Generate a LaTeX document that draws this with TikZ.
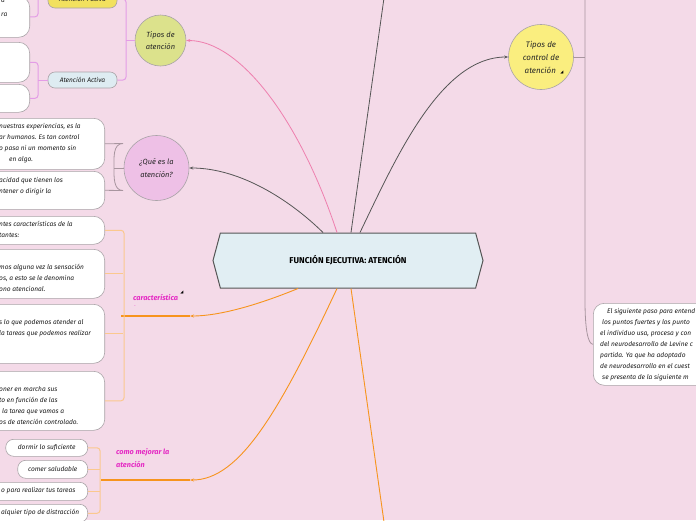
\documentclass[tikz,border=0pt]{standalone}
\usepackage{fontspec}
\setmainfont{Fira Sans}
\newfontfamily\symfont{DejaVu Sans}
\usetikzlibrary{positioning,shapes.symbols,arrows.meta}
\definecolor{PageBg}{HTML}{F4DAE8}
\definecolor{TitleFill}{HTML}{E1EEF3}
\definecolor{EdgeGrey}{HTML}{555555}
\definecolor{LeafGrey}{HTML}{A9A3A7}
\definecolor{PinkLink}{HTML}{EE7FAE}
\definecolor{LilacLink}{HTML}{E39CE6}
\definecolor{MauveLink}{HTML}{A8959F}
\definecolor{LinkOrange}{HTML}{F7941D}
\definecolor{SoftOrange}{HTML}{FBC88E}
\definecolor{LabelMagenta}{HTML}{E52BC4}
\definecolor{TiposFill}{HTML}{DCE28C}
\definecolor{QueFill}{HTML}{EEC0E6}
\definecolor{ControlFill}{HTML}{FAEE7F}
\definecolor{PasivaFill}{HTML}{F2E15E}
\definecolor{ActivaFill}{HTML}{DEECF2}

\begin{document}
\begin{tikzpicture}[x=1pt,y=-1pt,
    leaf/.style={draw=LeafGrey, fill=white, rounded corners=11pt, line width=0.6pt, inner sep=0pt},
    smallleaf/.style={leaf, rounded corners=8pt, anchor=north east, text=black!90, font=\fontsize{6.6}{8}\selectfont\itshape},
    leaftext/.style={anchor=north west, align=left, inner sep=0pt, text=black!90, font=\fontsize{6.6}{11}\selectfont\itshape},
    bubble/.style={circle, draw=LeafGrey, line width=0.6pt, inner sep=0pt, align=center, text=black!85, font=\fontsize{7.5}{12.5}\selectfont\itshape},
    tag/.style={draw=LeafGrey, rounded corners=7pt, line width=0.6pt, minimum width=69, text=black!90, font=\fontsize{6.6}{8}\selectfont\itshape},
    sublabel/.style={text=LabelMagenta, align=left, inner sep=0pt, font=\fontsize{7.3}{13}\selectfont\bfseries\itshape},
    darklink/.style={draw=EdgeGrey, line width=0.8pt},
    graylink/.style={darklink, -{Stealth[length=4pt,width=3pt]}},
    pinklink/.style={draw=PinkLink, line width=0.8pt, -{Stealth[length=4pt,width=3pt]}},
    orangelink/.style={draw=LinkOrange, line width=0.9pt},
    branch/.style={line width=1pt, rounded corners=3pt}]
  \useasboundingbox (0,0) rectangle (696,520);
  \clip (0,0) rectangle (696,520);
  \fill[PageBg] (0,0) rectangle (696,520);

  \node[signal, signal to=west and east, signal pointer angle=150, draw=EdgeGrey, fill=TitleFill,
        line width=1pt, minimum width=270, minimum height=55, font=\fontsize{8.5}{9}\selectfont\bfseries] (fe) at (348,260.5) {FUNCIÓN EJECUTIVA: ATENCIÓN};

  \node[bubble, fill=TiposFill, minimum size=51] (tipos) at (160.5,40.5) {Tipos de\\atención};
  \node[bubble, fill=QueFill, minimum size=65] (quees) at (156.5,168) {¿Qué es la\\atención?};
  \node[bubble, fill=ControlFill, minimum size=65, font=\fontsize{8}{13}\selectfont\itshape] (control) at (541,57) {Tipos de\\control de\\atención\,};
  \node[font=\fontsize{4}{4}\selectfont\symfont] (controlmark) at (562,72) {◢};

  \node[tag, fill=PasivaFill, minimum height=18] (pasiva) at (82.5,-1) {Atención Pasiva};
  \node[tag, fill=ActivaFill, minimum height=16] (activa) at (82.5,80) {Atención Activa};
  \node[leaf, anchor=north east, minimum width=60, minimum height=41] (p1) at (30,-4) {};
  \node[leaf, anchor=north east, minimum width=60, minimum height=40] (p2) at (30,42) {};
  \node[leaf, anchor=north east, minimum width=60, minimum height=28] (p3) at (30,84) {};
  \node[leaftext, font=\fontsize{6.6}{14}\selectfont\itshape] (p1text) at (1,-1) {a\\ra};

  \node[leaf, anchor=north east, minimum width=130, minimum height=51] (q1) at (105,118) {};
  \node[leaf, anchor=north east, minimum width=130, minimum height=38] (q2) at (105,171) {};
  \node[leaftext] (q1text) at (-1,123) {nuestras experiencias, es la\\ar humanos. Es tan control\\o pasa ni un momento sin\\\hspace*{10pt}en algo.};
  \node[leaftext] (q2text) at (-1,177) {acidad que tienen los\\ntener o dirigir la};

  \node[leaf, anchor=north east, minimum width=130, minimum height=28] (c1) at (105,216) {};
  \node[leaf, anchor=north east, minimum width=130, minimum height=49] (c2) at (105,249) {};
  \node[leaf, anchor=north east, minimum width=130, minimum height=59] (c3) at (105,304) {};
  \node[leaf, anchor=north east, minimum width=130, minimum height=59] (c4) at (105,371) {};
  \node[leaftext] (c1text) at (-1,221) {ntes características de la\\tantes:};
  \node[leaftext] (c2text) at (-1,264) {mos alguna vez la sensación\\os, a esto se le denomina\\ono atencional.};
  \node[leaftext] (c3text) at (-1,319) {s lo que podemos atender al\\la tareas que podemos realizar};
  \node[leaftext] (c4text) at (-1,386) {oner en marcha sus\\to en función de las\\\hspace*{3pt}la tarea que vamos a\\os de atención controlado.};

  \node[smallleaf, minimum width=82, minimum height=17] (m1) at (88,439) {dormir lo suficiente};
  \node[smallleaf, minimum width=70, minimum height=18] (m2) at (88,460) {comer saludable};
  \node[smallleaf, minimum width=120, minimum height=18] (m3) at (88,482) {};
  \node[smallleaf, minimum width=120, minimum height=18] (m4) at (88,504) {};
  \node[leaftext, anchor=west] (m3text) at (1,491) {o para realizar tus tareas};
  \node[leaftext, anchor=west] (m4text) at (1,513) {alquier tipo de distracción};

  \node[leaf, anchor=north west, minimum width=150, minimum height=82] (paso) at (593,303) {};
  \node[leaftext] (pasotext) at (600,308) {\hspace*{7pt}El siguiente paso para entend\\\hspace*{2pt}los puntos fuertes y los punto\\el individuo usa, procesa y con\\del neurodesarrollo de Levine c\\partida. Ya que ha adoptado\\de neurodesarrollo en el cuest\\\hspace*{2pt}se presenta de la siguiente m};

  \coordinate (caracin) at (190,316);
  \coordinate (mejorain) at (190,480);
  \coordinate (topout) at (384,-2);
  \coordinate (bottomout) at (384,522);
  \node[sublabel, anchor=west] (carac) at (133,298) {característica};
  \node[sublabel, font=\fontsize{4}{4}\selectfont] (caracdash) at (135,307) {-};
  \node[font=\fontsize{4}{4}\selectfont\symfont] (caracmark) at (182,292) {◢};
  \node[sublabel, anchor=north west] (mejora) at (116,448) {como mejorar la\\atención};

  \draw[pinklink] ([xshift=-11pt]fe.north) .. controls (300,120) and (240,40.5) .. (tipos.east);
  \draw[graylink] ([xshift=-25pt]fe.north) .. controls (290,200) and (240,168) .. (quees.east);
  \draw[darklink] ([xshift=3pt]fe.north) -- (topout);
  \draw[graylink] ([xshift=12pt]fe.north) .. controls (395,160) and (440,57) .. (control.west);
  \draw[orangelink, -{Stealth[length=4pt,width=3pt]}] ([xshift=-50pt]fe.south) .. controls (270,300) and (225,316) .. (caracin);
  \draw[orangelink, -{Stealth[length=4pt,width=3pt]}] ([xshift=-11pt]fe.south) .. controls (280,410) and (240,480) .. (mejorain);
  \draw[orangelink] ([xshift=3pt]fe.south) -- (bottomout);

  \draw[branch, LilacLink] (tipos.west) -- (126,40.5);
  \draw[branch, LilacLink] (pasiva.east) -| (126,40) |- (activa.east);
  \draw[branch, LilacLink] (38,-12) |- (p1.east);
  \draw[branch, LilacLink] (pasiva.west) -- (38,-1);
  \draw[branch, LilacLink] (activa.west) -- (38,80);
  \draw[branch, LilacLink] (p2.east) -| (38,80) |- (p3.east);

  \draw[MauveLink, line width=0.8pt] (quees.west) -- (114,168);
  \draw[MauveLink, line width=0.8pt] (q1.east) -- (123,143.5) to[out=180,in=90] (114,168) to[out=-90,in=180] (123,190.5) -- (q2.east);

  \draw[orangelink, line width=1.4pt] (caracin) -- (121,316);
  \draw[branch, SoftOrange] (c1.east) -| (124,316) |- (c4.east);
  \foreach \b in {c2,c3}
    \draw[SoftOrange, line width=1pt] (\b.east) -- +(18,0);

  \draw[orangelink, line width=1.4pt] (mejorain) -- (101,480);
  \draw[branch, SoftOrange] (m1.east) -| (100,480) |- (m4.east);
  \foreach \b in {m2,m3}
    \draw[SoftOrange, line width=1pt] (\b.east) -- +(12,0);

  \draw[MauveLink, line width=0.8pt] (control.east) -- (585,57);
  \draw[MauveLink, line width=0.8pt] (585,-2) -- (585,300) .. controls (585,330) and (588,344) .. (paso.west);
\end{tikzpicture}
\end{document}
